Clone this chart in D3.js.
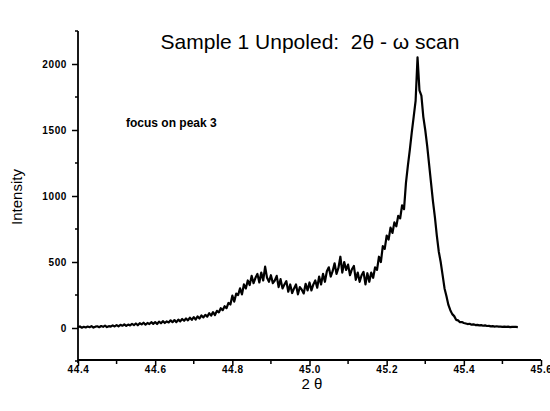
<!DOCTYPE html>
<html>
<head>
<meta charset="utf-8">
<script src="https://cdn.jsdelivr.net/npm/d3@7"></script>
<style>
  html, body { margin: 0; padding: 0; background: #fff; }
  svg { display: block; }
</style>
</head>
<body>
<svg id="chart" width="550" height="411"></svg>
<script>
// ---- data ----
const scanStart = 44.40;
const scanStep = 0.005;
const intensity = [
  5, 12, 2, 9, 4, 11, 6, 14, 3, 10,
  13, 6, 15, 9, 18, 7, 14, 11, 20, 12,
  22, 13, 24, 17, 28, 16, 26, 20, 31, 22,
  34, 21, 36, 27, 40, 25, 38, 30, 44, 31,
  45, 30, 48, 36, 52, 38, 50, 42, 58, 44,
  60, 44, 63, 50, 68, 55, 72, 58, 78, 62,
  82, 64, 88, 72, 95, 80, 100, 86, 112, 94,
  120, 98, 130, 118, 150, 135, 165, 150, 190, 178,
  245, 200, 260, 250, 300, 255, 330, 300, 360, 325,
  395, 340, 380, 410, 345, 420, 360, 465, 380, 350,
  400, 340, 360, 395, 310, 370, 300, 330, 355, 275,
  330, 265, 300, 330, 255, 310, 290, 262, 335, 285,
  345, 285, 330, 360, 305, 390, 330, 410, 350, 430,
  460, 390, 430, 490, 410, 455, 540, 420, 500, 440,
  480, 400, 445, 470, 365, 420, 350, 400, 425, 330,
  415, 350, 420, 380, 460, 440, 540, 500, 620, 600,
  700, 670, 760, 720, 800, 770, 850, 830, 930, 900,
  1100, 1230, 1350, 1480, 1600, 1720, 2050, 1800, 1760, 1600,
  1500, 1380, 1240, 1100, 960, 840, 700, 580, 500, 400,
  300, 240, 175, 135, 105, 90, 62, 58, 44, 45,
  38, 34, 30, 32, 25, 28, 22, 24, 20, 22,
  17, 20, 15, 16, 12, 14, 11, 13, 10, 11,
  9, 11, 8, 10, 7, 9, 8, 8, 7
];
const xMajorTicks = [44.4, 44.6, 44.8, 45.0, 45.2, 45.4, 45.6];
const xTickLabels = ["44.4", "44.6", "44.8", "45.0", "45.2", "45.4", "45.6"];
const xMinorTicks = [44.5, 44.7, 44.9, 45.1, 45.3, 45.5];
const yMajorTicks = [0, 500, 1000, 1500, 2000];
const yMinorTicks = [-250, 250, 750, 1250, 1750, 2250];
const titleText = "Sample 1 Unpoled:  2\u03b8 - \u03c9 scan";
const noteText = "focus on peak 3";

const points = intensity.map((v, i) => ({ x: scanStart + i * scanStep, y: v }));

// ---- layout ----
const svg = d3.select("#chart");
const x = d3.scaleLinear().domain([44.4, 45.6]).range([78, 541]);
const y = d3.scaleLinear().domain([-250, 2250]).range([361, 31]);
const xAxisY = 360;

const tickFont = "'Liberation Sans', Arial, sans-serif";

// x axis
const gx = svg.append("g").attr("transform", `translate(0,${xAxisY})`);
gx.call(d3.axisBottom(x).tickValues(xMajorTicks).tickSize(6)
    .tickFormat((d, i) => xTickLabels[i]));
gx.call(g => g.select(".domain").attr("d", `M${x(44.4)},0H${x(45.6)}`));
gx.selectAll(".minor").data(xMinorTicks).enter().append("line")
  .attr("class", "minor").attr("x1", d => x(d)).attr("x2", d => x(d))
  .attr("y1", 0).attr("y2", 4).attr("stroke", "#000").attr("stroke-width", 1.5);

// y axis
const gy = svg.append("g").attr("transform", `translate(${x(44.4)},0)`);
gy.call(d3.axisLeft(y).tickValues(yMajorTicks).tickSize(6).tickFormat(d3.format("d")));
gy.call(g => g.select(".domain").attr("d", `M0,${y(2250)}V${xAxisY + 3}`));
gy.selectAll(".minor").data(yMinorTicks).enter().append("line")
  .attr("class", "minor").attr("y1", d => y(d)).attr("y2", d => y(d))
  .attr("x1", 0).attr("x2", -3).attr("stroke", "#000").attr("stroke-width", 1.5);

[gx, gy].forEach(g => {
  g.selectAll(".domain").attr("stroke", "#000").attr("stroke-width", 1.8);
  g.selectAll(".tick line").attr("stroke", "#000").attr("stroke-width", 1.5);
  g.selectAll(".tick text")
    .attr("font-family", tickFont).attr("font-weight", "bold")
    .attr("font-size", "10px").attr("letter-spacing", "0.6px").attr("fill", "#000");
});
gx.selectAll(".tick text").attr("dy", "0.9em").attr("y", 4);
gy.selectAll(".tick text").attr("x", -11);

// data line
svg.append("path")
  .datum(points)
  .attr("fill", "none")
  .attr("stroke", "#000")
  .attr("stroke-width", 2.2)
  .attr("stroke-linejoin", "round")
  .attr("d", d3.line().x(d => x(d.x)).y(d => y(d.y)));

// title
svg.append("text")
  .attr("x", 310).attr("y", 49)
  .attr("text-anchor", "middle")
  .attr("font-family", tickFont).attr("font-size", "21px").attr("fill", "#000")
  .attr("xml:space", "preserve").style("white-space", "pre")
  .text(titleText);

// annotation
svg.append("text")
  .attr("x", 126).attr("y", 127)
  .attr("font-family", tickFont).attr("font-weight", "bold")
  .attr("font-size", "12px").attr("fill", "#000")
  .text(noteText);

// axis titles
svg.append("text")
  .attr("transform", "translate(22,197) rotate(-90)")
  .attr("text-anchor", "middle")
  .attr("font-family", tickFont).attr("font-size", "15px").attr("fill", "#000")
  .text("Intensity");

svg.append("text")
  .attr("x", 312).attr("y", 389)
  .attr("text-anchor", "middle")
  .attr("font-family", tickFont).attr("font-size", "15px").attr("fill", "#000")
  .attr("xml:space", "preserve").style("white-space", "pre")
  .text("2 \u03b8");
</script>
</body>
</html>
